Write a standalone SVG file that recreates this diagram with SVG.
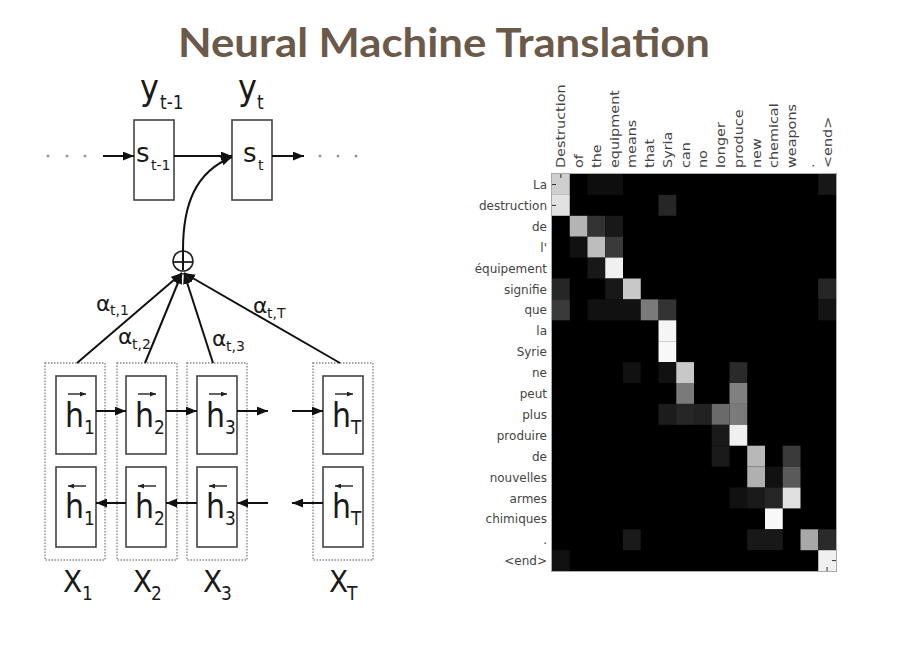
<svg xmlns="http://www.w3.org/2000/svg" width="900" height="650" viewBox="0 0 900 650">
<defs>
<marker id="ah" viewBox="0 0 10 8" refX="10" refY="4" markerWidth="11" markerHeight="9" markerUnits="userSpaceOnUse" orient="auto">
<path d="M0,0 L10,4 L0,8 z" fill="#111"/>
</marker>
<marker id="sh" viewBox="0 0 10 8" refX="10" refY="4" markerWidth="6" markerHeight="5" markerUnits="userSpaceOnUse" orient="auto">
<path d="M0,0 L10,4 L0,8 z" fill="#222"/>
</marker>
<style>
.t{font-family:"DejaVu Sans",sans-serif;fill:#1a1a1a}
.big{font-size:32px}
.sub{font-size:17px}
.s{font-size:26px}
.ss{font-size:14px}
.h{font-size:30px}
.hs{font-size:17px}
.x{font-size:28px}
.al{font-size:22px}
.als{font-size:14px}
.box{fill:none;stroke:#444;stroke-width:1.6}
.dbox{fill:none;stroke:#888;stroke-width:1.4;stroke-dasharray:1.5 1.5}
.ln{stroke:#111;stroke-width:2;fill:none}
.ov{stroke:#222;stroke-width:1.4;fill:none}
.dot{fill:#999}
.rl{font-family:"DejaVu Sans",sans-serif;font-size:12px;fill:#444;text-anchor:end}
.cl{font-family:"DejaVu Sans",sans-serif;font-size:12px;fill:#444}
</style>
</defs>
<rect width="900" height="650" fill="#fff"/>
<text x="444" y="57" font-family="Lato,'Open Sans',sans-serif" font-weight="bold" font-size="40" fill="#6b5a4a" text-anchor="middle" textLength="532" lengthAdjust="spacingAndGlyphs">Neural Machine Translation</text>

<g id="decoder">
<g id="y_tm1" transform="translate(0,100) scale(1,1.1) translate(0,-100)"><text class="t big" x="140" y="100">y</text><text class="t sub" x="160" y="108">t-1</text></g>
<g id="y_t" transform="translate(0,100) scale(1,1.1) translate(0,-100)"><text class="t big" x="238" y="100">y</text><text class="t sub" x="257" y="108">t</text></g>
<g id="s_tm1"><rect class="box" x="134" y="120" width="40" height="80"/><text class="t s" x="136" y="162">s</text><text class="t ss" x="151" y="170">t-1</text></g>
<g id="s_t"><rect class="box" x="232" y="120" width="40" height="80"/><text class="t s" x="243" y="162">s</text><text class="t ss" x="258" y="170">t</text></g>
<g id="dots">
<circle class="dot" cx="48" cy="156" r="1.5"/><circle class="dot" cx="67" cy="156" r="1.5"/><circle class="dot" cx="85" cy="156" r="1.5"/>
<circle class="dot" cx="320" cy="156" r="1.5"/><circle class="dot" cx="338" cy="156" r="1.5"/><circle class="dot" cx="356" cy="156" r="1.5"/>
</g>
</g>

<g id="sum">
<circle cx="183" cy="261" r="10" fill="#fff" stroke="#222" stroke-width="1.6"/>
<line x1="173" y1="262" x2="193" y2="262" stroke="#222" stroke-width="1.8"/>
</g>

<g id="encoder">
<g id="col1"><rect class="dbox" x="45" y="363" width="60" height="197"/>
<rect class="box" x="56" y="376" width="40" height="78"/><path class="ov" d="M68,394 H86" marker-end="url(#sh)"/>
<g transform="translate(0,427) scale(1,1.15) translate(0,-427)"><text class="t h" x="65" y="427">h</text><text class="t hs" x="84" y="433">1</text></g>
<rect class="box" x="56" y="467" width="40" height="80"/><path class="ov" d="M86,486 H68" marker-end="url(#sh)"/>
<g transform="translate(0,518) scale(1,1.12) translate(0,-518)"><text class="t h" x="65" y="518">h</text><text class="t hs" x="84" y="524">1</text></g>
<g transform="translate(0,592) scale(1,1.1) translate(0,-592)"><text class="t x" x="63" y="592">X</text><text class="t hs" x="82" y="599">1</text></g></g>
<g id="col2"><rect class="dbox" x="117" y="363" width="60" height="197"/>
<rect class="box" x="126" y="376" width="40" height="78"/><path class="ov" d="M138,394 H156" marker-end="url(#sh)"/>
<g transform="translate(0,427) scale(1,1.15) translate(0,-427)"><text class="t h" x="135" y="427">h</text><text class="t hs" x="154" y="433">2</text></g>
<rect class="box" x="126" y="467" width="40" height="80"/><path class="ov" d="M156,486 H138" marker-end="url(#sh)"/>
<g transform="translate(0,518) scale(1,1.12) translate(0,-518)"><text class="t h" x="135" y="518">h</text><text class="t hs" x="154" y="524">2</text></g>
<g transform="translate(0,592) scale(1,1.1) translate(0,-592)"><text class="t x" x="133" y="592">X</text><text class="t hs" x="151" y="599">2</text></g></g>
<g id="col3"><rect class="dbox" x="187" y="363" width="60" height="197"/>
<rect class="box" x="197" y="376" width="40" height="78"/><path class="ov" d="M209,394 H227" marker-end="url(#sh)"/>
<g transform="translate(0,427) scale(1,1.15) translate(0,-427)"><text class="t h" x="206" y="427">h</text><text class="t hs" x="225" y="433">3</text></g>
<rect class="box" x="197" y="467" width="40" height="80"/><path class="ov" d="M227,486 H209" marker-end="url(#sh)"/>
<g transform="translate(0,518) scale(1,1.12) translate(0,-518)"><text class="t h" x="206" y="518">h</text><text class="t hs" x="225" y="524">3</text></g>
<g transform="translate(0,592) scale(1,1.1) translate(0,-592)"><text class="t x" x="203" y="592">X</text><text class="t hs" x="221" y="599">3</text></g></g>
<g id="colT"><rect class="dbox" x="313" y="363" width="60" height="197"/>
<rect class="box" x="323" y="376" width="40" height="78"/><path class="ov" d="M335,394 H353" marker-end="url(#sh)"/>
<g transform="translate(0,427) scale(1,1.15) translate(0,-427)"><text class="t h" x="332" y="427">h</text><text class="t hs" x="351" y="433">T</text></g>
<rect class="box" x="323" y="467" width="40" height="80"/><path class="ov" d="M353,486 H335" marker-end="url(#sh)"/>
<g transform="translate(0,518) scale(1,1.12) translate(0,-518)"><text class="t h" x="332" y="518">h</text><text class="t hs" x="351" y="524">T</text></g>
<g transform="translate(0,592) scale(1,1.1) translate(0,-592)"><text class="t x" x="329" y="592">X</text><text class="t hs" x="347" y="599">T</text></g></g>
</g>

<g id="connectors">
<line class="ln" x1="103" y1="156" x2="134" y2="156" marker-end="url(#ah)"/>
<line class="ln" x1="174" y1="156" x2="232" y2="156" marker-end="url(#ah)"/>
<line class="ln" x1="272" y1="156" x2="304" y2="156" marker-end="url(#ah)"/>
<path class="ln" d="M183,270 L183,250 C183,205 195,172 232,157" marker-end="url(#ah)"/>
<line class="ln" x1="77" y1="363" x2="182" y2="273" marker-end="url(#ah)"/>
<line class="ln" x1="145" y1="363" x2="182" y2="273" marker-end="url(#ah)"/>
<line class="ln" x1="213" y1="363" x2="184" y2="273" marker-end="url(#ah)"/>
<line class="ln" x1="340" y1="363" x2="184" y2="273" marker-end="url(#ah)"/>
<line class="ln" x1="96" y1="411" x2="126" y2="411" marker-end="url(#ah)"/>
<line class="ln" x1="166" y1="411" x2="197" y2="411" marker-end="url(#ah)"/>
<line class="ln" x1="237" y1="411" x2="268" y2="411" marker-end="url(#ah)"/>
<line class="ln" x1="292" y1="411" x2="323" y2="411" marker-end="url(#ah)"/>
<line class="ln" x1="126" y1="503" x2="96" y2="503" marker-end="url(#ah)"/>
<line class="ln" x1="197" y1="503" x2="166" y2="503" marker-end="url(#ah)"/>
<line class="ln" x1="268" y1="503" x2="237" y2="503" marker-end="url(#ah)"/>
<line class="ln" x1="323" y1="503" x2="292" y2="503" marker-end="url(#ah)"/>
<g id="alpha-labels">
<text class="t al" x="96" y="311">α</text><text class="t als" x="110" y="315">t,1</text>
<text class="t al" x="118" y="344">α</text><text class="t als" x="132" y="349">t,2</text>
<text class="t al" x="212" y="346">α</text><text class="t als" x="226" y="351">t,3</text>
<text class="t al" x="253" y="313">α</text><text class="t als" x="267" y="318">t,T</text>
</g>
</g>

<g id="heatmap">
<g transform="translate(552,174) scale(17.75,20.9)">
<rect x="0" y="0" width="16" height="19" fill="#000"/>
<rect x="0" y="0" width="1" height="1" fill="#cfcfcf"/>
<rect x="0" y="1" width="1" height="1" fill="#e2e2e2"/>
<rect x="15" y="0" width="1" height="1" fill="#171717"/>
<rect x="2" y="0" width="2" height="1" fill="#0e0e0e"/>
<rect x="6" y="1" width="1" height="1" fill="#262626"/>
<rect x="1" y="2" width="1" height="1" fill="#b4b4b4"/>
<rect x="2" y="2" width="1" height="1" fill="#333"/>
<rect x="3" y="2" width="1" height="1" fill="#181818"/>
<rect x="1" y="3" width="1" height="1" fill="#111"/>
<rect x="2" y="3" width="1" height="1" fill="#bdbdbd"/>
<rect x="3" y="3" width="1" height="1" fill="#3a3a3a"/>
<rect x="2" y="4" width="1" height="1" fill="#181818"/>
<rect x="3" y="4" width="1" height="1" fill="#f0f0f0"/>
<rect x="0" y="5" width="1" height="1" fill="#262626"/>
<rect x="3" y="5" width="1" height="1" fill="#181818"/>
<rect x="4" y="5" width="1" height="1" fill="#c8c8c8"/>
<rect x="15" y="5" width="1" height="1" fill="#262626"/>
<rect x="0" y="6" width="1" height="1" fill="#3a3a3a"/>
<rect x="2" y="6" width="3" height="1" fill="#111"/>
<rect x="5" y="6" width="1" height="1" fill="#7a7a7a"/>
<rect x="6" y="6" width="1" height="1" fill="#333"/>
<rect x="15" y="6" width="1" height="1" fill="#141414"/>
<rect x="6" y="7" width="1" height="1" fill="#f5f5f5"/>
<rect x="6" y="8" width="1" height="1" fill="#f8f8f8"/>
<rect x="4" y="9" width="1" height="1" fill="#111"/>
<rect x="6" y="9" width="1" height="1" fill="#111"/>
<rect x="7" y="9" width="1" height="1" fill="#c8c8c8"/>
<rect x="10" y="9" width="1" height="1" fill="#2a2a2a"/>
<rect x="7" y="10" width="1" height="1" fill="#7a7a7a"/>
<rect x="10" y="10" width="1" height="1" fill="#808080"/>
<rect x="6" y="11" width="1" height="1" fill="#1c1c1c"/>
<rect x="7" y="11" width="1" height="1" fill="#262626"/>
<rect x="8" y="11" width="1" height="1" fill="#222"/>
<rect x="9" y="11" width="1" height="1" fill="#6a6a6a"/>
<rect x="10" y="11" width="1" height="1" fill="#7a7a7a"/>
<rect x="9" y="12" width="1" height="1" fill="#1a1a1a"/>
<rect x="10" y="12" width="1" height="1" fill="#f0f0f0"/>
<rect x="9" y="13" width="1" height="1" fill="#1a1a1a"/>
<rect x="11" y="13" width="1" height="1" fill="#b8b8b8"/>
<rect x="13" y="13" width="1" height="1" fill="#3a3a3a"/>
<rect x="11" y="14" width="1" height="1" fill="#b0b0b0"/>
<rect x="12" y="14" width="1" height="1" fill="#111"/>
<rect x="13" y="14" width="1" height="1" fill="#5a5a5a"/>
<rect x="10" y="15" width="1" height="1" fill="#111"/>
<rect x="11" y="15" width="1" height="1" fill="#1a1a1a"/>
<rect x="12" y="15" width="1" height="1" fill="#262626"/>
<rect x="13" y="15" width="1" height="1" fill="#e0e0e0"/>
<rect x="12" y="16" width="1" height="1" fill="#f8f8f8"/>
<rect x="4" y="17" width="1" height="1" fill="#1a1a1a"/>
<rect x="11" y="17" width="2" height="1" fill="#181818"/>
<rect x="14" y="17" width="1" height="1" fill="#a8a8a8"/>
<rect x="15" y="17" width="1" height="1" fill="#2a2a2a"/>
<rect x="0" y="18" width="1" height="1" fill="#111"/>
<rect x="15" y="18" width="1" height="1" fill="#f0f0f0"/>
</g>
<g stroke="#333" stroke-width="1">
<line x1="552" y1="184.5" x2="556" y2="184.5"/><line x1="552" y1="205.4" x2="556" y2="205.4"/>
<line x1="560.9" y1="174" x2="560.9" y2="178"/>
<line x1="832" y1="560.6" x2="836" y2="560.6"/><line x1="827.1" y1="567" x2="827.1" y2="571"/>
</g>
<rect x="551.5" y="173.5" width="285" height="398" fill="none" stroke="#aaa" stroke-width="1"/>
<g id="row-labels">
<text class="rl" x="547" y="189">La</text>
<text class="rl" x="547" y="209.9">destruction</text>
<text class="rl" x="547" y="230.8">de</text>
<text class="rl" x="547" y="251.7">l'</text>
<text class="rl" x="547" y="272.6">équipement</text>
<text class="rl" x="547" y="293.5">signifie</text>
<text class="rl" x="547" y="314.4">que</text>
<text class="rl" x="547" y="335.3">la</text>
<text class="rl" x="547" y="356.2">Syrie</text>
<text class="rl" x="547" y="377.1">ne</text>
<text class="rl" x="547" y="398">peut</text>
<text class="rl" x="547" y="418.9">plus</text>
<text class="rl" x="547" y="439.8">produire</text>
<text class="rl" x="547" y="460.7">de</text>
<text class="rl" x="547" y="481.6">nouvelles</text>
<text class="rl" x="547" y="502.5">armes</text>
<text class="rl" x="547" y="523.4">chimiques</text>
<text class="rl" x="547" y="544.3">.</text>
<text class="rl" x="547" y="565.2">&lt;end&gt;</text>
</g>
<g id="col-labels">
<text class="cl" transform="translate(565.4,168) rotate(-90) scale(1.2,1)">Destruction</text>
<text class="cl" transform="translate(583.1,168) rotate(-90) scale(1.2,1)">of</text>
<text class="cl" transform="translate(600.9,168) rotate(-90) scale(1.2,1)">the</text>
<text class="cl" transform="translate(618.6,168) rotate(-90) scale(1.2,1)">equipment</text>
<text class="cl" transform="translate(636.4,168) rotate(-90) scale(1.2,1)">means</text>
<text class="cl" transform="translate(654.1,168) rotate(-90) scale(1.2,1)">that</text>
<text class="cl" transform="translate(671.9,168) rotate(-90) scale(1.2,1)">Syria</text>
<text class="cl" transform="translate(689.6,168) rotate(-90) scale(1.2,1)">can</text>
<text class="cl" transform="translate(707.4,168) rotate(-90) scale(1.2,1)">no</text>
<text class="cl" transform="translate(725.1,168) rotate(-90) scale(1.2,1)">longer</text>
<text class="cl" transform="translate(742.9,168) rotate(-90) scale(1.2,1)">produce</text>
<text class="cl" transform="translate(760.6,168) rotate(-90) scale(1.2,1)">new</text>
<text class="cl" transform="translate(778.4,168) rotate(-90) scale(1.2,1)">chemical</text>
<text class="cl" transform="translate(796.1,168) rotate(-90) scale(1.2,1)">weapons</text>
<text class="cl" transform="translate(813.9,168) rotate(-90) scale(1.2,1)">.</text>
<text class="cl" transform="translate(831.6,168) rotate(-90) scale(1.2,1)">&lt;end&gt;</text>
</g>
</g>
</svg>
